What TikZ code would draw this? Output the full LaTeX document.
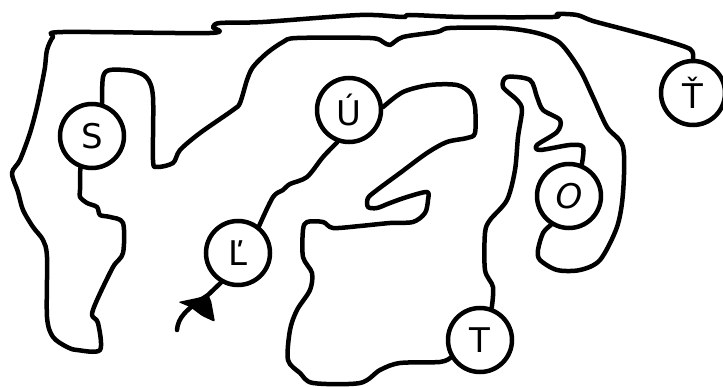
\documentclass[tikz,border=0pt]{standalone}
\usepackage{fontspec}
\setmainfont{DejaVu Sans}

\tikzset{
  letter/.style={circle, draw, line width=4.5pt, minimum size=64pt, inner sep=0pt,
    font=\fontsize{34}{34}\selectfont},
  trail/.style={line width=4.5pt, line cap=round, line join=round}
}

\begin{document}
\begin{tikzpicture}[x=1pt, y=-1pt]
\useasboundingbox (0,0) rectangle (723,387);
% letters
\node[letter] (S) at (92,136) {S};
\node[letter] (U) at (349,110) {Ú};
\node[letter] (L) at (238,253) {Ľ};
\node[letter] (O) at (569,196) {\itshape O};
\node[letter] (T) at (480,340) {T};
\node[letter] (Tc) at (693,93) {Ť};
\coordinate (start) at (177,330); \coordinate (tip) at (208,295);
% start arrow, drawn by hand
\draw[trail] (start) .. controls (178,318) and (185,310) .. (tip) -- (L.240);
\fill[rounded corners=2pt] (178,302) -- (197,298) -- (tip) -- (211,300) -- (215,322) -- (202,316) -- (190,307) -- cycle;
% trail between the letters
\draw[trail] plot[smooth, tension=0.5] coordinates {(L.52) (273,197) (283,190) (290,184) (307,177) (323,157) (U.250)};
\draw[trail] plot[smooth, tension=0.5] coordinates {(U.5) (403,92) (430,85) (457,85) (470,93) (475,107) (475,133) (467,138) (447,142) (427,153) (400,173) (377,190) (368,198) (368,207) (377,208) (390,203) (407,197) (427,192) (428,200) (425,213) (413,222) (390,223) (360,226) (333,228) (323,222) (307,222) (303,230) (303,257) (312,273) (310,290) (297,310) (290,330) (288,360) (300,373) (313,383) (360,383) (380,370) (400,363) (440,362) (T.211)};
\draw[trail] plot[smooth, tension=0.5] coordinates {(T.70) (493,287) (485,270) (485,233) (490,220) (507,200) (515,170) (518,137) (522,110) (517,100) (503,87) (507,77) (530,80) (537,97) (543,110) (560,120) (557,132) (537,145) (540,150) (570,145) (583,147) (O.68)};
\draw[trail] plot[smooth, tension=0.5] coordinates {(O.238) (543,233) (538,250) (540,260) (557,270) (580,270) (600,260) (617,227) (623,193) (623,147) (607,127) (593,97) (580,70) (560,43) (537,33) (503,28) (450,28) (437,32) (403,37) (390,45) (383,42) (370,38) (297,38) (283,42) (267,53) (253,67) (247,80) (240,103) (233,110) (200,133) (180,150) (173,163) (157,167) (153,160) (153,97) (147,78) (133,71) (110,70) (103,77) (S.73)};
\draw[trail] plot[smooth, tension=0.5] coordinates {(S.250) (80,190) (80,197) (87,203) (97,207) (100,215) (110,217) (123,223) (123,253) (113,267) (97,300) (92,315) (98,323) (100,350) (77,350) (67,347) (53,337) (47,317) (47,257) (43,240) (33,227) (23,210) (18,192) (12,173) (20,160) (30,133) (37,107) (42,83) (45,67) (47,50) (53,37) (63,32) (210,33) (213,27) (220,23) (263,22) (360,15) (403,17) (410,15) (463,17) (553,17) (557,14) (577,15) (593,21) (627,30) (660,39) (690,49) (Tc.90)};
\end{tikzpicture}
\end{document}
